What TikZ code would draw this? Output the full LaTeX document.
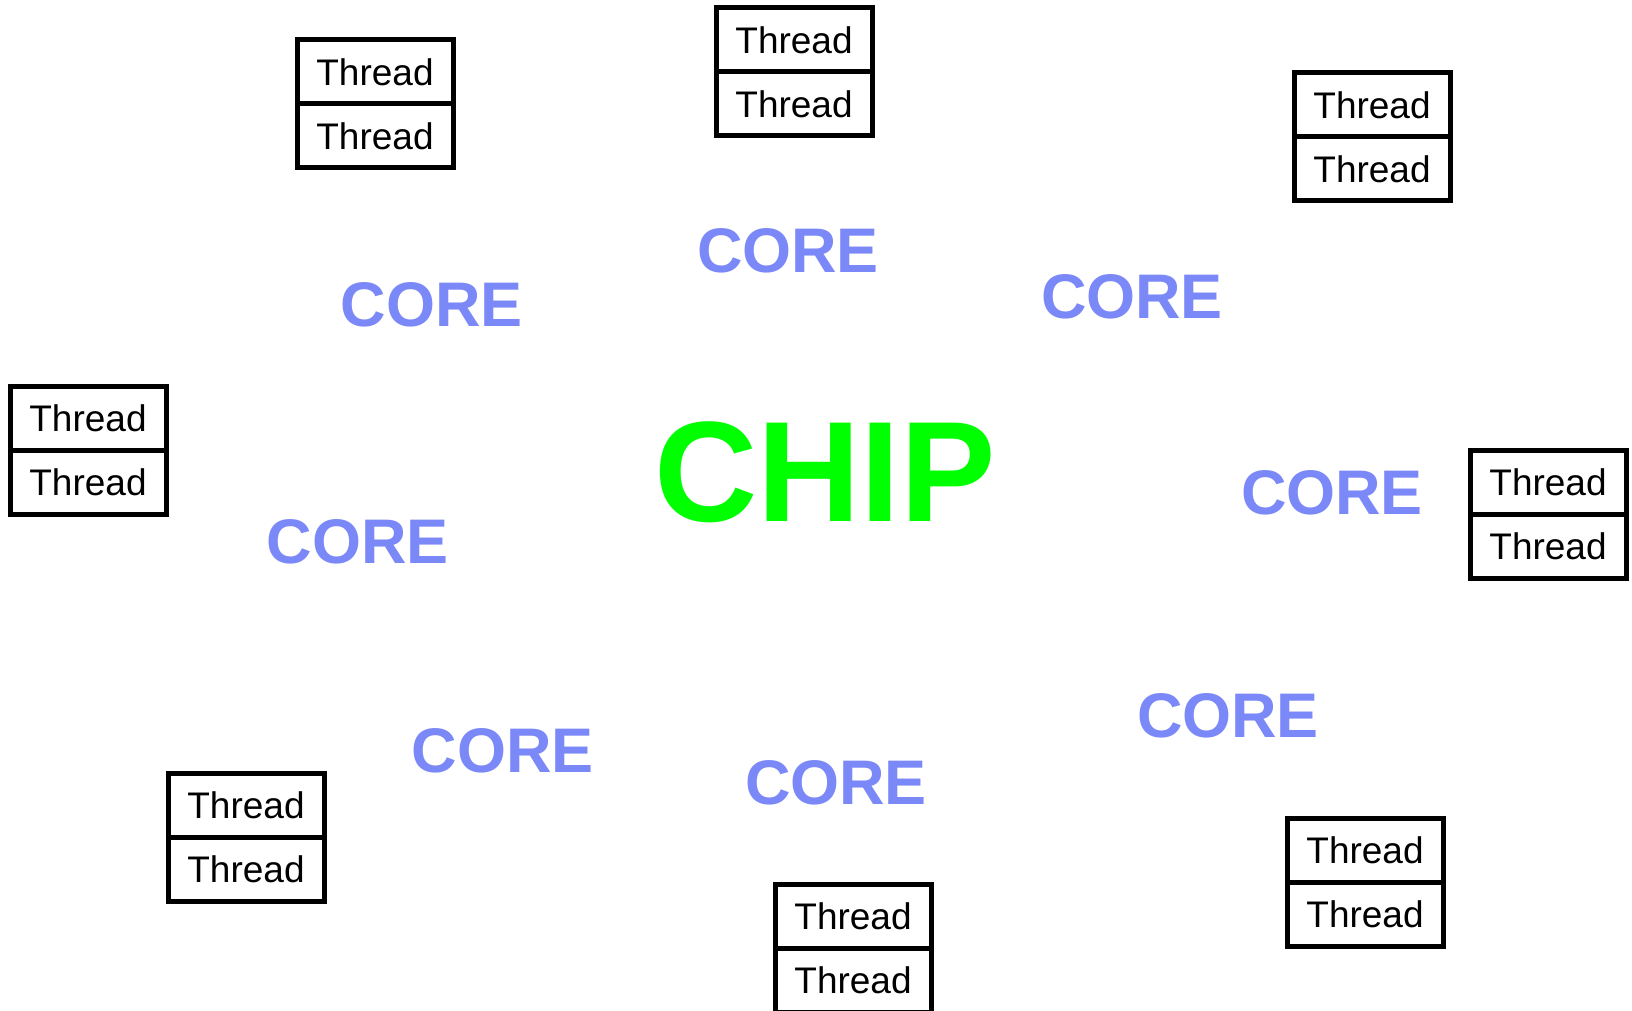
\documentclass[tikz,border=0pt]{standalone}
\usepackage{fontspec}
\setmainfont{Liberation Sans}
\definecolor{coreblue}{RGB}{123,136,248}
\definecolor{chipgreen}{RGB}{0,255,0}
\tikzset{
  threadcell/.style={draw=black, line width=5pt, minimum width=156pt, minimum height=64pt, inner sep=0pt, fill=white, font=\fontsize{37}{40}\selectfont},
  corelabel/.style={text=coreblue, inner sep=0pt, font=\bfseries\fontsize{63}{66}\selectfont},
  chiplabel/.style={text=chipgreen, inner sep=0pt, font=\bfseries\fontsize{143}{150}\selectfont}
}
\newcommand{\threadpair}[3]{%
  \node[threadcell] (#1a) at (#2,#3-32) {Thread};
  \node[threadcell] (#1b) at (#2,#3+32) {Thread};
}
\begin{document}
\begin{tikzpicture}[x=1pt,y=-1pt]
\useasboundingbox (0,0) rectangle (1632,1011);
\fill[white] (0,0) rectangle (1632,1011);
\threadpair{ta}{375}{104}
\threadpair{tb}{794}{72}
\threadpair{tc}{1372}{137}
\threadpair{td}{88}{450}
\threadpair{te}{1548}{514}
\threadpair{tf}{246}{837}
\threadpair{tg}{853}{948}
\threadpair{th}{1365}{882}
\node[corelabel] (c1) at (432,305) {CORE};
\node[corelabel] (c2) at (788,251) {CORE};
\node[corelabel] (c3) at (1132,297) {CORE};
\node[corelabel] (c4) at (1332,493) {CORE};
\node[corelabel] (c5) at (358,542) {CORE};
\node[corelabel] (c6) at (1228,716) {CORE};
\node[corelabel] (c7) at (503,751) {CORE};
\node[corelabel] (c8) at (836,783) {CORE};
\node[chiplabel] (chip) at (825,472) {CHIP};
\end{tikzpicture}
\end{document}
